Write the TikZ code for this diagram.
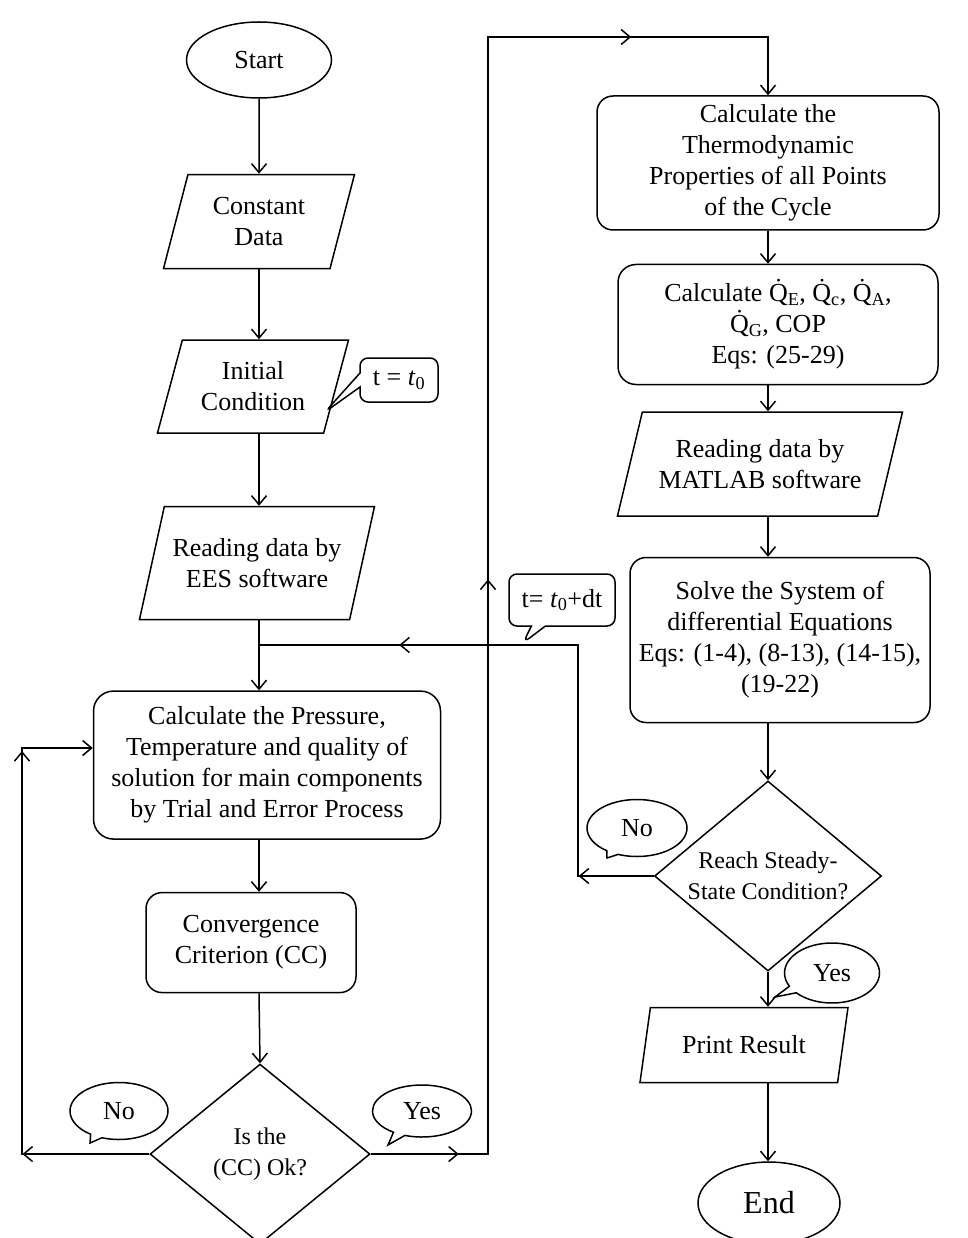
\documentclass[tikz,border=0pt]{standalone}
\usepackage{fontspec}
\setmainfont{Liberation Serif}
\usetikzlibrary{arrows.meta,positioning,shapes.geometric,shapes.callouts,decorations.markings}
\newcommand{\flowfont}{\fontsize{26}{31}\selectfont}
\tikzset{
  terminal/.style={ellipse,draw,line width=1.5pt,font=\flowfont,minimum width=145pt,minimum height=76pt},
  io/.style={trapezium,trapezium left angle=65,trapezium right angle=115,trapezium stretches body,
    draw,line width=1.5pt,align=center,font=\flowfont,inner sep=2pt},
  process/.style={rectangle,draw,line width=1.5pt,rounded corners=16pt,align=center,font=\flowfont,inner sep=3pt},
  decision/.style={diamond,draw,line width=1.5pt,align=center,font={\fontsize{24}{31}\selectfont},inner sep=-10pt},
  arrow/.style={-{Straight Barb[length=9pt,width=15pt]},line width=1.5pt},
  midarrow/.style={postaction={decorate,decoration={markings,
    mark=at position #1 with {\arrow{Straight Barb[length=9pt,width=15pt]}}}}},
  tag/.style={rectangle callout,draw,line width=1.5pt,rounded corners=8pt,font=\flowfont,
    inner sep=2pt,callout pointer width=14pt},
  bubble/.style={ellipse callout,draw,line width=1.5pt,font=\flowfont,inner sep=0pt}
}
\begin{document}
\begin{tikzpicture}[x=1pt,y=1pt]
  \useasboundingbox (0,0) rectangle (967,-1238);
  \coordinate (lcol) at (259,0);
  \coordinate (rcol) at (768,0);

  % left column
  \node[terminal] (start) at (259,-60) {Start};
  \node[io,below=75pt of start,minimum width=191pt,minimum height=94pt] (constdata) {Constant\\Data};
  \node[io,below=70pt of constdata,xshift=-6pt,minimum width=191pt,minimum height=93pt] (initcond) {Initial\\Condition};
  \node[io,below=72pt of initcond,xshift=4pt,minimum width=235pt,minimum height=113pt] (reades) {Reading data by\\EES software};
  \node[process,below=70pt of reades,xshift=10pt,minimum width=347pt,minimum height=148pt,rounded corners=20pt] (calcpress)
    {Calculate the Pressure,\\Temperature and quality of\\solution for main components\\by Trial and Error Process};
  \node[process,below=52pt of calcpress,xshift=-16pt,minimum width=210pt,minimum height=100pt] (converge) {Convergence\\Criterion (CC)};
  \node[decision,below=70pt of converge,xshift=9pt,minimum width=220pt,minimum height=180pt] (checkcc) {Is the\\(CC) Ok?};

  \draw[arrow] (start) -- (constdata);
  \draw[arrow] (lcol |- constdata.south) -- (lcol |- initcond.north);
  \draw[arrow] (lcol |- initcond.south) -- (lcol |- reades.north);
  \draw[arrow] (lcol |- reades.south) -- (lcol |- calcpress.north);
  \draw[arrow] (lcol |- calcpress.south) -- (lcol |- converge.north);
  \draw[arrow] (lcol |- converge.south) -- (checkcc.north);

  % right column
  \node[process,minimum width=342pt,minimum height=134pt] (thermo) at (768,-163)
    {Calculate the\\Thermodynamic\\Properties of all Points\\of the Cycle};
  \node[process,below=33pt of thermo,xshift=10pt,minimum width=320pt,minimum height=120pt,rounded corners=18pt] (calcq)
    {Calculate \.{Q}\textsubscript{E}, \.{Q}\textsubscript{c}, \.{Q}\textsubscript{A},\\\.{Q}\textsubscript{G}, COP\\Eqs: (25-29)};
  \node[io,below=26pt of calcq,xshift=-18pt,minimum width=285pt,minimum height=104pt] (readmat) {Reading data by\\MATLAB software};
  \node[process,below=40pt of readmat,xshift=20pt,minimum width=300pt,minimum height=165pt] (solve)
    {Solve the System of\\differential Equations\\Eqs: (1-4), (8-13), (14-15),\\(19-22)};
  \node[decision,below=57pt of solve,xshift=-12pt,minimum width=227pt,minimum height=190pt] (steady) {Reach Steady-\\State Condition?};
  \node[io,below=35pt of steady,xshift=-24pt,minimum width=208pt,minimum height=75pt] (print) {Print Result};
  \node[terminal,below=78pt of print,xshift=25pt,minimum width=142pt,minimum height=82pt,
    font={\fontsize{32}{36}\selectfont}] (endnode) {End};

  \draw[arrow] (thermo.south) -- (rcol |- calcq.north);
  \draw[arrow] (rcol |- calcq.south) -- (rcol |- readmat.north);
  \draw[arrow] (rcol |- readmat.south) -- (rcol |- solve.north);
  \draw[arrow] (rcol |- solve.south) -- (steady.north);
  \draw[arrow] (steady.south) -- (rcol |- print.north);
  \draw[arrow] (rcol |- print.south) -- (rcol |- endnode.north);

  % loops
  \coordinate (upline) at (488,-37);
  \coordinate (leftrail) at (22,-748);
  \coordinate (rightrail) at (578,-645);
  \coordinate (join) at (lcol |- rightrail);

  \draw[arrow,midarrow=0.056,midarrow=0.44,midarrow=0.876]
    (checkcc.east) -- (checkcc.east -| upline) -- (upline) -- (rcol |- upline) -- (thermo.north);
  \draw[arrow,midarrow=0.21,midarrow=0.878]
    (checkcc.west) -- (checkcc.west -| leftrail) -- (leftrail) -- (leftrail -| calcpress.west);
  \draw[line width=1.5pt,midarrow=0.12,midarrow=0.776]
    (steady.west) -- (steady.west -| rightrail) -- (rightrail) -- (join);

  % callouts
  \coordinate (t0tip) at (325,-412);
  \coordinate (dttip) at (523,-643);
  \coordinate (nosteadytip) at (607,-858);
  \coordinate (nocctip) at (90,-1143);
  \coordinate (yescctip) at (388,-1145);
  \coordinate (yessteadytip) at (775,-997);

  \node[tag,callout absolute pointer={(t0tip)},minimum width=78pt,minimum height=44pt] (tinit) at (399,-380)
    {t = \textit{t}\textsubscript{0}};
  \node[tag,callout absolute pointer={(dttip)},minimum width=106pt,minimum height=52pt] (tstep) at (562,-600)
    {t= \textit{t}\textsubscript{0}+dt};
  \node[bubble,callout absolute pointer={(nosteadytip)},minimum width=100pt,minimum height=57pt] (nosteady) at (637,-828) {No};
  \node[bubble,callout absolute pointer={(nocctip)},minimum width=98pt,minimum height=57pt] (nocc) at (119,-1111) {No};
  \node[bubble,callout absolute pointer={(yescctip)},minimum width=99pt,minimum height=52pt] (yescc) at (422,-1111) {Yes};
  \node[bubble,callout absolute pointer={(yessteadytip)},minimum width=95pt,minimum height=60pt] (yessteady) at (832,-973) {Yes};
\end{tikzpicture}
\end{document}
